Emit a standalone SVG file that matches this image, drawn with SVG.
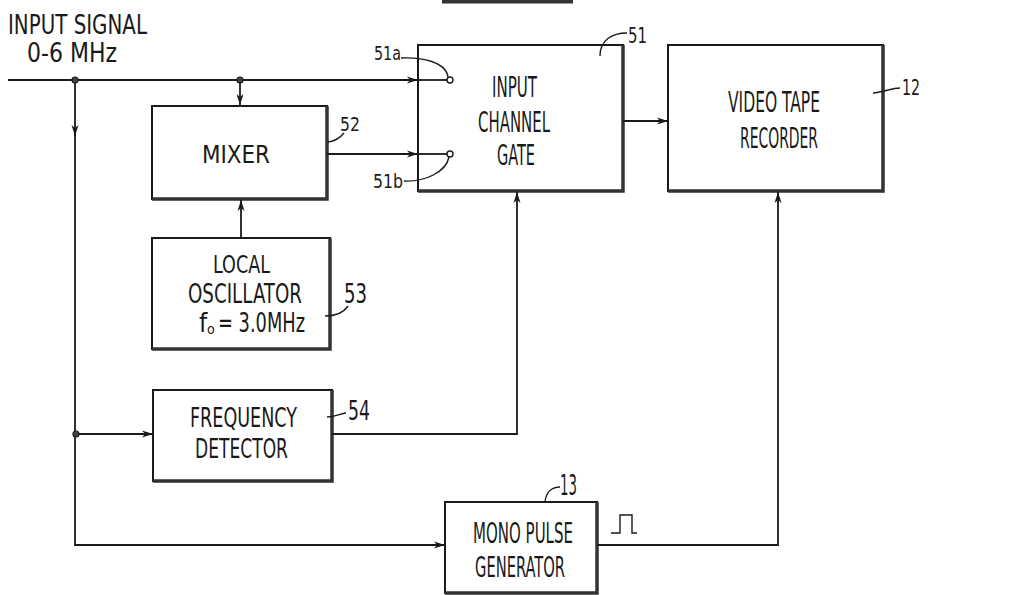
<svg xmlns="http://www.w3.org/2000/svg" width="1021" height="595" viewBox="0 0 1021 595">
<style>
text{font-family:"DejaVu Sans Condensed","DejaVu Sans","Liberation Sans",sans-serif;font-stretch:condensed;fill:#1a1a1a}
.box{fill:#fff;stroke:#1a1a1a;stroke-width:2}
.edge{fill:none;stroke:#333;stroke-width:3.5}
.w{fill:none;stroke:#1a1a1a;stroke-width:1.8}
.ld{fill:none;stroke:#1a1a1a;stroke-width:1.4}
.dot{fill:#444;stroke:#1a1a1a;stroke-width:1.2}
.term{fill:#fff;stroke:#1a1a1a;stroke-width:1.4}
</style>
<defs>
<marker id="a" viewBox="0 0 12 8" refX="11" refY="4" markerWidth="12" markerHeight="8" markerUnits="userSpaceOnUse" orient="auto">
<path d="M0,0.5 L11,4 L0,7.5 L3,4 Z" fill="#1a1a1a"/>
</marker>
</defs>
<rect x="442" y="0" width="131" height="3.5" fill="#333"/>
<g id="input-label">
<text font-size="26" x="8" y="34" textLength="139" lengthAdjust="spacingAndGlyphs">INPUT SIGNAL</text>
<text font-size="26" x="27" y="62" textLength="90" lengthAdjust="spacingAndGlyphs">0-6 MHz</text>
</g>
<g id="gate">
<rect class="box" x="418" y="45" width="205" height="146"/>
<path class="edge" d="M623,45 V191 H418"/>
<text font-size="29" x="492" y="97" textLength="45" lengthAdjust="spacingAndGlyphs">INPUT</text>
<text font-size="29" x="478" y="132" textLength="72" lengthAdjust="spacingAndGlyphs">CHANNEL</text>
<text font-size="29" x="497" y="165" textLength="38" lengthAdjust="spacingAndGlyphs">GATE</text>
<text font-size="21" x="628" y="43" textLength="19" lengthAdjust="spacingAndGlyphs">51</text>
<path class="ld" d="M600,56 C600,40 612,33 627,33"/>
<text font-size="20" x="374" y="60" textLength="27" lengthAdjust="spacingAndGlyphs">51a</text>
<path class="ld" d="M401,58 C422,57 446,62 448,77"/>
<text font-size="20" x="373" y="188" textLength="30" lengthAdjust="spacingAndGlyphs">51b</text>
<path class="ld" d="M404,181 C425,182 446,172 449,157"/>
</g>
<g id="vtr">
<rect class="box" x="668" y="45" width="215" height="146"/>
<path class="edge" d="M883,45 V191 H668"/>
<text font-size="29" x="728" y="112" textLength="92" lengthAdjust="spacingAndGlyphs">VIDEO TAPE</text>
<text font-size="29" x="740" y="148" textLength="78" lengthAdjust="spacingAndGlyphs">RECORDER</text>
<text font-size="21" x="902" y="95" textLength="18" lengthAdjust="spacingAndGlyphs">12</text>
<path class="ld" d="M873,93 C884,92 892,88 900,88"/>
</g>
<g id="mixer">
<rect class="box" x="152" y="106" width="175" height="93"/>
<path class="edge" d="M327,106 V199 H152"/>
<text font-size="25" x="202" y="163" textLength="68" lengthAdjust="spacingAndGlyphs">MIXER</text>
<text font-size="19" x="340" y="131" textLength="20" lengthAdjust="spacingAndGlyphs">52</text>
<path class="ld" d="M328,142 C335,141 340,138 344,133"/>
</g>
<g id="oscillator">
<rect class="box" x="152" y="238" width="178" height="111"/>
<path class="edge" d="M330,238 V349 H152"/>
<text font-size="25" x="213" y="273" textLength="57" lengthAdjust="spacingAndGlyphs">LOCAL</text>
<text font-size="26" x="188" y="303" textLength="114" lengthAdjust="spacingAndGlyphs">OSCILLATOR</text>
<text font-size="26" x="199" y="332">f</text>
<text font-size="14" x="207" y="334">o</text>
<text font-size="26" x="218" y="332" textLength="87" lengthAdjust="spacingAndGlyphs">= 3.0MHz</text>
<text font-size="27" x="344" y="303" textLength="23" lengthAdjust="spacingAndGlyphs">53</text>
<path class="ld" d="M325,316 C336,316 344,312 348,306"/>
</g>
<g id="freq-detector">
<rect class="box" x="153" y="390" width="179" height="91"/>
<path class="edge" d="M332,390 V481 H153"/>
<text font-size="27" x="190" y="427" textLength="107" lengthAdjust="spacingAndGlyphs">FREQUENCY</text>
<text font-size="27" x="195" y="458" textLength="93" lengthAdjust="spacingAndGlyphs">DETECTOR</text>
<text font-size="27" x="348" y="420" textLength="22" lengthAdjust="spacingAndGlyphs">54</text>
<path class="ld" d="M327,417 C336,417 341,413 346,413"/>
</g>
<g id="mono-pulse">
<rect class="box" x="445" y="502" width="152" height="91"/>
<path class="edge" d="M597,502 V593 H445"/>
<text font-size="28" x="473" y="543" textLength="100" lengthAdjust="spacingAndGlyphs">MONO PULSE</text>
<text font-size="28" x="475" y="577" textLength="90" lengthAdjust="spacingAndGlyphs">GENERATOR</text>
<text font-size="29" x="560" y="495" textLength="17" lengthAdjust="spacingAndGlyphs">13</text>
<path class="ld" d="M545,502 C546,492 552,487 560,487"/>
</g>
<g id="connectors">
<path class="w" d="M8,80 H418" marker-end="url(#a)"/>
<path class="w" d="M240,80 V105" marker-end="url(#a)"/>
<path class="w" d="M75,80 V136" marker-end="url(#a)"/>
<path class="w" d="M75,130 V545 H445" marker-end="url(#a)"/>
<path class="w" d="M327,154 H418" marker-end="url(#a)"/>
<path class="w" d="M418,80 H447"/>
<path class="w" d="M418,154 H447"/>
<path class="w" d="M623,121 H668" marker-end="url(#a)"/>
<path class="w" d="M241,238 V200" marker-end="url(#a)"/>
<path class="w" d="M76,434 H153" marker-end="url(#a)"/>
<path class="w" d="M332,434 H517 V192" marker-end="url(#a)"/>
<path class="w" d="M597,545 H778 V192" marker-end="url(#a)"/>
<circle class="dot" cx="75" cy="80" r="3"/>
<circle class="dot" cx="240" cy="80" r="3"/>
<circle class="dot" cx="76" cy="434" r="3"/>
<circle class="term" cx="450" cy="80" r="3"/>
<circle class="term" cx="450" cy="154" r="3"/>
<path class="ld" d="M611,533 H620 V515 H632 V533 H637"/>
</g>
</svg>
